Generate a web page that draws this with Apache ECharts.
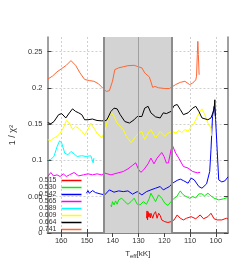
<!DOCTYPE html>
<html><head><meta charset="utf-8">
<script src="https://cdn.jsdelivr.net/npm/echarts@6/dist/echarts.min.js"></script>
<style>html,body{margin:0;padding:0;background:#fff}#c{width:241px;height:271px}</style>
</head><body><div id="c"></div>
<script>
const seriesNames = ['0.515','0.530','0.542','0.565','0.589','0.609','0.664','0.741'];
const seriesColors = ['#ff0000','#00ee00','#0000ff','#ff00ff','#00ffff','#ffff00','#000000','#ff6633'];

const t515 = [126.9,126.7,126.5,126.3,126.0,125.8,125.4,125.2,124.8,124.5,124.0,123.4,122.8,122.2,121.6,121.0,119.8,118.6,117.4,116.2,115.0,113.8,112.6,111.4,109.6,107.8,106.1,104.8,103.1,101.9,100.7,99.5,97.7,95.9,95.3];
const v515 = [0.0203,0.0304,0.018,0.0294,0.0221,0.0269,0.0207,0.0272,0.0235,0.0203,0.0262,0.0294,0.0203,0.0272,0.0242,0.018,0.0156,0.0145,0.0156,0.018,0.0249,0.0203,0.018,0.0203,0.0225,0.0196,0.0249,0.0196,0.0225,0.0272,0.0196,0.018,0.018,0.0203,0.0193];

const t530 = [140.7,140.5,140.1,139.5,138.9,138.3,137.7,136.5,135.3,134.1,132.9,131.7,130.5,129.4,128.1,126.9,125.8,125.2,124.0,123.4,122.2,121.0,119.8,118.6,117.4,116.2,115.2,113.8,113.0,112.0,110.2,109.0,107.8,106.6,105.4,104.4,103.1,101.9,100.7,98.9,97.1,95.3];
const v530 = [0.0387,0.0359,0.0432,0.0387,0.0442,0.0396,0.0456,0.0479,0.0432,0.0396,0.0432,0.0479,0.0396,0.0387,0.0432,0.0396,0.0479,0.0548,0.047,0.0432,0.0525,0.0479,0.041,0.038,0.0432,0.0479,0.0501,0.058,0.0539,0.0511,0.0479,0.0501,0.0483,0.0539,0.0539,0.0511,0.0548,0.0511,0.0479,0.0456,0.047,0.049];

const t542 = [150.2,149.6,149.1,147.8,146.7,144.9,143.1,141.3,139.5,137.7,135.9,134.1,132.3,130.5,128.7,126.9,125.2,123.4,121.6,120.4,119.2,118.0,116.8,115.0,113.8,112.6,110.8,109.6,108.4,107.8,106.6,105.4,103.6,102.4,101.9,101.3,100.7,100.4,100.1,99.5,98.9,97.7,96.5,95.3];
const v542 = [0.0548,0.0584,0.0548,0.0584,0.0557,0.0539,0.0525,0.0594,0.0562,0.058,0.057,0.058,0.0535,0.057,0.0525,0.057,0.0594,0.0617,0.064,0.0594,0.0617,0.064,0.0686,0.0725,0.0742,0.0722,0.0686,0.0756,0.0732,0.0709,0.064,0.0617,0.0677,0.0847,0.1146,0.1606,0.1744,0.1699,0.1561,0.1146,0.0732,0.0704,0.0718,0.0773];

const t565 = [165.2,164.0,163.0,161.6,160.4,159.2,158.0,156.8,155.0,153.2,151.4,149.6,147.8,146.1,144.3,143.1,140.7,138.3,135.9,134.1,132.3,131.1,129.9,129.1,128.0,126.3,125.2,124.0,122.8,121.0,120.1,119.2,118.4,117.4,116.8,115.6,114.4,112.6,110.8,109.0,107.2,106.1];
const v565 = [0.0778,0.0833,0.0787,0.0801,0.0778,0.0815,0.0778,0.0801,0.0833,0.0787,0.0801,0.0815,0.0801,0.0815,0.0801,0.0825,0.0801,0.0825,0.0847,0.0884,0.0932,0.0967,0.087,0.0836,0.087,0.0953,0.1032,0.0953,0.1032,0.1109,0.1054,0.0963,0.0967,0.1146,0.1202,0.1101,0.1032,0.0916,0.0894,0.0847,0.0829,0.0836];

const t589 = [165.2,164.0,162.8,161.6,160.6,159.8,158.6,157.4,156.2,155.0,153.8,152.0,150.3,148.5,147.8,147.6,147.3];
const v589 = [0.1008,0.1015,0.1054,0.1188,0.1271,0.1239,0.1101,0.1077,0.1123,0.1091,0.1054,0.1064,0.1054,0.1064,0.1054,0.0967,0.1032];

const t609 = [165.2,164.0,162.8,161.6,160.4,159.2,158.0,156.8,155.6,154.4,153.2,152.0,150.9,149.6,148.5,147.3,146.1,144.3,143.1,141.9,140.7,139.5,138.3,137.1,135.9,134.7,132.9,131.1,129.9,128.7,127.6,126.3,125.2,123.4,121.6,119.8,118.6,118.0,116.8,115.6,114.4,113.2,112.0,110.8,109.6,108.4,107.2,106.1,105.4,104.3,103.1,101.9,101.7];
const v609 = [0.1285,0.1275,0.131,0.133,0.1375,0.1445,0.155,0.1515,0.1425,0.1465,0.1445,0.14,0.1355,0.1425,0.1515,0.1445,0.1375,0.131,0.14,0.156,0.1675,0.1605,0.1515,0.1465,0.1425,0.133,0.1245,0.133,0.1375,0.14,0.1285,0.1375,0.1425,0.131,0.14,0.133,0.1375,0.1355,0.14,0.1375,0.141,0.1385,0.1425,0.14,0.1465,0.1515,0.1605,0.1675,0.171,0.163,0.1515,0.1445,0.134];

const t664 = [165.2,164.0,162.8,161.0,159.8,158.2,156.8,155.6,154.4,153.2,152.0,150.9,149.6,147.9,146.1,144.3,142.5,141.9,140.7,139.5,138.3,137.1,135.3,133.5,131.7,130.5,128.7,127.6,126.3,125.2,123.4,121.6,120.4,119.2,117.4,116.2,115.0,113.8,112.6,110.8,109.0,107.8,106.6,105.4,103.1,101.9,100.7,100.4,100.2];
const v664 = [0.152,0.1505,0.1535,0.163,0.1645,0.1585,0.1655,0.171,0.1675,0.1655,0.163,0.156,0.156,0.157,0.155,0.1545,0.155,0.1585,0.1675,0.172,0.171,0.163,0.1535,0.1515,0.156,0.1605,0.1605,0.172,0.1745,0.1655,0.16,0.1585,0.1655,0.1645,0.1675,0.1755,0.177,0.17,0.163,0.1655,0.172,0.1745,0.1675,0.1585,0.156,0.1585,0.17,0.1835,0.161];

const t741 = [165.2,163.4,161.6,159.8,158.0,156.2,154.4,152.7,150.9,149.1,147.3,145.5,143.7,142.5,141.9,141.3,140.1,139.2,137.7,135.9,134.1,131.7,130.5,128.7,127.6,125.8,124.5,123.7,122.2,119.8,118.0,117.4,115.6,113.8,112.0,110.2,109.0,107.8,107.5,107.2,107.0,106.8,106.5];
const v741 = [0.212,0.216,0.222,0.2265,0.231,0.2375,0.231,0.2205,0.2115,0.21,0.209,0.2055,0.199,0.195,0.1945,0.196,0.209,0.225,0.2275,0.229,0.2305,0.231,0.2295,0.2275,0.2205,0.215,0.2005,0.202,0.2,0.199,0.199,0.2,0.2045,0.2075,0.209,0.2045,0.2065,0.211,0.216,0.246,0.264,0.246,0.218];

const xTicks = [100,110,120,130,140,150,160];
const yTicks = [0,0.05,0.1,0.15,0.2,0.25];
const xRange = [95.3,165.3];
const yRange = [0,0.27];
const shadeRange = [143.3,117.3];
const markT = 130;

const allT = [t515,t530,t542,t565,t589,t609,t664,t741];
const allV = [v515,v530,v542,v565,v589,v609,v664,v741];
function zip(a,b){const n=Math.min(a.length,b.length);const r=[];for(let i=0;i<n;i++)r.push([a[i],b[i]]);return r;}

const font = 'Liberation Sans, Arial, sans-serif';
const labelColor = '#333';
const frame = {show:true,lineStyle:{color:'#808080',width:1.5}};
const tick = {show:true,inside:true,length:4,lineStyle:{color:'#444',width:1}};

const series = [{
  type:'line', name:'shade', data:[], z:1, silent:true,
  markArea:{silent:true, itemStyle:{color:'#d3d3d3'}, data:[[{xAxis:shadeRange[0]},{xAxis:shadeRange[1]}]]},
  markLine:{silent:true, symbol:['none','none'], label:{show:false},
    data:[
      {xAxis:shadeRange[0], lineStyle:{color:'#8c8c8c',width:2,type:'solid'}},
      {xAxis:shadeRange[1], lineStyle:{color:'#8c8c8c',width:2,type:'solid'}},
      {xAxis:markT, lineStyle:{color:'#a0a0a0',width:1,type:'solid'}}
    ]}
}];
for(let i=0;i<seriesNames.length;i++){
  series.push({type:'line', name:seriesNames[i], data:zip(allT[i],allV[i]), showSymbol:false, symbol:'none',
    z:3, lineStyle:{color:seriesColors[i], width:1}, itemStyle:{color:seriesColors[i]}, animation:false});
}

const chart = echarts.init(document.getElementById('c'), null, {renderer:'canvas'});
chart.setOption({
  animation:false,
  backgroundColor:'#fff',
  grid:{left:33,right:13,top:37,bottom:38,containLabel:false},
  legend:{data:seriesNames, orient:'vertical', left:39, top:177, align:'right', icon:'rect',
    itemWidth:20, itemHeight:1.5, itemGap:0, padding:0,
    textStyle:{fontSize:7, lineHeight:6.6, color:labelColor, fontFamily:font}},
  xAxis:[{
    type:'value', position:'bottom', inverse:true, min:xRange[0], max:xRange[1],
    axisLine:frame, axisTick:Object.assign({customValues:xTicks},tick),
    axisLabel:{customValues:xTicks, fontSize:7.5, color:labelColor, fontFamily:font, margin:4},
    splitLine:{show:true, lineStyle:{color:'#d0d0d0', type:[2,2], width:1}},
    name:'T{sub|eff}[kK]', nameLocation:'middle', nameGap:6,
    nameTextStyle:{fontSize:8, color:labelColor, fontFamily:font, rich:{sub:{fontSize:6, verticalAlign:'bottom', padding:[4,0,0,0], color:labelColor, fontFamily:font}}}
  },{
    type:'value', position:'top', inverse:true, min:xRange[0], max:xRange[1],
    axisLine:frame, axisTick:Object.assign({customValues:xTicks},tick),
    axisLabel:{show:false}, splitLine:{show:false}
  }],
  yAxis:[{
    type:'value', position:'left', min:yRange[0], max:yRange[1],
    axisLine:frame, axisTick:Object.assign({customValues:yTicks},tick),
    axisLabel:{customValues:yTicks, fontSize:7.5, color:labelColor, fontFamily:font, margin:5},
    splitLine:{show:true, lineStyle:{color:'#d0d0d0', type:[2,2], width:1}},
    name:'1 / χ{sup|2}', nameLocation:'middle', nameGap:24, nameRotate:90,
    nameTextStyle:{fontSize:9, color:labelColor, fontFamily:font, rich:{sup:{fontSize:6, verticalAlign:'top', color:labelColor, fontFamily:font}}}
  },{
    type:'value', position:'right', min:yRange[0], max:yRange[1],
    axisLine:frame, axisTick:Object.assign({customValues:yTicks},tick),
    axisLabel:{show:false}, splitLine:{show:false}
  }],
  series:series
});
</script>
</body></html>
